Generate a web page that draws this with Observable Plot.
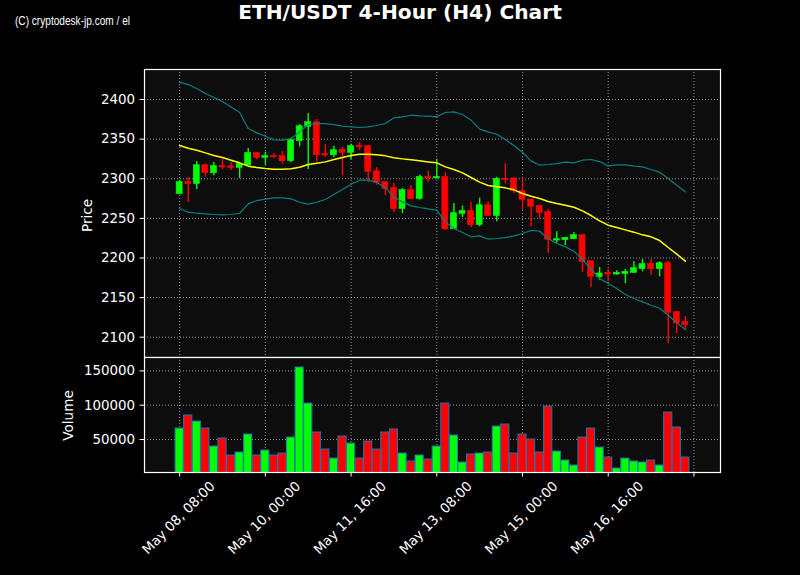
<!DOCTYPE html>
<html><head><meta charset="utf-8">
<script src="https://cdn.jsdelivr.net/npm/d3@7"></script>
<script src="https://cdn.jsdelivr.net/npm/@observablehq/plot@0.6"></script>
<style>
html,body{margin:0;padding:0;background:#000;}
#root{position:relative;width:800px;height:575px;background:#000;overflow:hidden;}
#root svg{position:absolute;left:0;}
</style></head><body><div id="root"></div>
<script>
// ---- data ----
const startTime = Date.UTC(2024, 4, 8, 8); // May 08, 08:00 (first candle)
const stepHours = 4;
const open = [2280.9,2295.7,2293.6,2317.1,2307.0,2315.9,2315.5,2313.8,2316.7,2332.3,
  2326.4,2328.5,2328.5,2322.2,2347.4,2365.5,2371.4,2331.0,2329.7,2336.5,
  2332.7,2341.5,2341.1,2309.5,2295.7,2288.1,2262.0,2285.6,2274.6,2302.0,
  2300.7,2302.0,2236.3,2255.7,2259.1,2241.8,2266.6,2253.2,2299.9,2300.3,
  2284.3,2273.8,2265.4,2257.8,2222.0,2222.5,2223.7,2228.8,2196.0,2175.8,
  2181.2,2179.1,2179.9,2181.2,2185.9,2192.2,2185.9,2193.4,2131.6,2119.0];
const high = [2297.3,2301.6,2321.8,2318.8,2320.5,2325.1,2320.1,2318.8,2338.2,2333.1,
  2333.5,2331.8,2334.4,2351.2,2368.4,2382.3,2374.8,2343.2,2341.1,2339.4,
  2343.6,2345.7,2342.0,2313.8,2295.7,2294.0,2287.7,2291.5,2304.5,2309.5,
  2324.3,2307.9,2268.7,2265.4,2270.0,2275.5,2270.8,2301.6,2319.2,2301.6,
  2300.3,2273.8,2265.4,2261.2,2233.0,2226.0,2232.1,2228.8,2196.0,2188.0,
  2185.9,2183.8,2185.5,2195.5,2198.1,2198.1,2195.1,2195.5,2132.9,2126.1];
const low = [2280.0,2270.0,2286.4,2302.4,2303.7,2311.7,2310.4,2300.3,2315.9,2323.9,
  2317.1,2325.5,2318.8,2320.1,2340.3,2311.7,2321.3,2326.8,2326.8,2304.1,
  2324.3,2336.0,2295.2,2291.9,2278.8,2257.4,2256.1,2274.2,2273.0,2295.2,
  2299.5,2234.7,2236.3,2251.1,2238.4,2239.3,2253.2,2245.6,2294.0,2281.4,
  2260.3,2239.3,2249.4,2205.6,2218.7,2215.7,2223.7,2181.7,2162.7,2172.0,
  2169.9,2178.3,2167.8,2181.2,2182.5,2177.9,2176.2,2092.0,2104.7,2108.9];
const close = [2295.7,2293.6,2317.1,2307.0,2315.9,2314.2,2313.8,2318.8,2332.3,2326.4,
  2328.5,2327.2,2322.2,2348.7,2366.3,2371.4,2329.7,2329.3,2336.0,2332.7,
  2341.1,2339.8,2308.7,2294.4,2287.3,2261.6,2285.6,2274.2,2302.0,2300.7,
  2302.4,2236.3,2256.5,2259.1,2241.4,2266.6,2253.2,2299.9,2298.6,2284.3,
  2273.4,2264.5,2256.9,2222.9,2223.7,2225.4,2228.8,2195.1,2176.2,2180.4,
  2179.1,2181.2,2182.5,2187.1,2192.2,2185.9,2193.4,2130.8,2117.3,2115.2];
const volume = [66000,85000,76200,66000,39800,51500,26700,31100,57300,26700,
  34000,26700,29600,52900,154900,102400,60200,35400,22300,54400,
  44200,22300,47100,35400,60200,64600,29600,18000,26700,20900,
  39800,102400,55800,16500,28200,29600,31100,68900,71800,29600,
  57300,50000,31100,98000,32500,19400,12100,52900,66000,38300,
  23800,7800,22300,18000,16500,19400,12100,89300,67500,23800];
const ma = [2341.9,2338.6,2336.0,2332.7,2329.3,2326.8,2323.4,2320.1,2315.9,2314.2,
  2312.9,2312.1,2312.1,2312.5,2314.6,2318.0,2319.6,2321.3,2324.3,2326.8,
  2329.3,2331.0,2331.0,2330.2,2328.9,2326.4,2325.1,2323.9,2322.6,2321.3,
  2320.1,2315.0,2311.7,2307.4,2301.6,2295.7,2291.5,2289.8,2288.5,2286.0,
  2281.4,2278.0,2275.0,2271.3,2268.7,2266.6,2264.1,2259.5,2253.6,2246.9,
  2241.4,2238.4,2235.5,2232.6,2229.2,2226.7,2222.0,2213.2,2204.8,2196.0];
const upper = [2421.9,2418.9,2413.9,2407.6,2402.5,2397.5,2390.7,2383.6,2363.4,2357.9,
  2353.7,2349.1,2348.7,2350.8,2359.2,2368.4,2369.7,2369.7,2368.4,2366.3,
  2365.5,2364.7,2365.5,2367.2,2369.7,2376.9,2378.1,2380.2,2379.4,2379.0,
  2378.1,2383.6,2384.4,2381.1,2373.9,2362.6,2359.2,2356.2,2349.5,2341.9,
  2333.5,2322.6,2317.1,2318.0,2319.2,2320.9,2320.1,2323.4,2324.3,2321.7,
  2316.3,2317.5,2317.5,2315.9,2315.0,2311.7,2308.3,2300.3,2291.9,2283.5];
const lower = [2262.4,2257.8,2256.5,2255.7,2254.9,2254.4,2254.9,2256.5,2268.3,2272.5,
  2274.2,2275.9,2275.9,2274.6,2270.4,2267.9,2270.4,2273.8,2280.1,2286.4,
  2293.1,2298.2,2298.2,2295.7,2288.5,2277.2,2270.8,2265.8,2263.7,2262.0,
  2260.3,2245.6,2237.2,2232.1,2226.7,2227.9,2223.7,2224.6,2225.8,2227.9,
  2230.9,2234.7,2233.8,2224.6,2218.3,2214.1,2208.6,2198.1,2185.9,2174.1,
  2167.8,2161.5,2153.9,2148.8,2144.6,2140.4,2136.6,2127.8,2118.1,2109.7];
const priceTicks = [2100, 2150, 2200, 2250, 2300, 2350, 2400];
const volumeTicks = [50000, 100000, 150000];
const xTickLabels = ["May 08, 08:00", "May 10, 00:00", "May 11, 16:00", "May 13, 08:00", "May 15, 00:00", "May 16, 16:00"];
const titleText = "ETH/USDT 4-Hour (H4) Chart";
const watermarkText = "(C) cryptodesk-jp.com / el";

// ---- build ----
const H = 3600e3;
const step = stepHours * H;
const candles = open.map((o, i) => ({
  t: new Date(startTime + i * step), open: o, high: high[i], low: low[i], close: close[i],
  volume: volume[i], ma: ma[i], upper: upper[i], lower: lower[i],
  color: close[i] >= o ? "#00ff00" : "#ff0000"
}));
const xTicks = d3.range(0, 61, 10).map(i => new Date(startTime + i * step));
const labelMap = new Map(xTicks.map((d, i) => [+d, xTickLabels[i] ?? ""]));
const xDomain = [new Date(startTime - 4.1 * step), new Date(startTime + 63.1 * step)];

const gridStyle = {stroke: "white", strokeOpacity: 0.55, strokeDasharray: "1,2", strokeWidth: 1};
const FACE = "#0d0d0d";
const BAND = "#078080";
const fmt = d3.format("d");
const common = {
  width: 800, marginLeft: 144, marginRight: 80,
  style: {background: "transparent", color: "white", fontFamily: "DejaVu Sans, sans-serif", fontSize: "13.4px", overflow: "visible"}
};

const pricePlot = Plot.plot({
  ...common,
  height: 357, marginTop: 69, marginBottom: 0,
  x: {type: "utc", domain: xDomain, axis: null},
  y: {domain: [2074.4, 2437.9]},
  color: {type: "identity"},
  marks: [
    Plot.frame({fill: FACE, stroke: null}),
    Plot.gridX(xTicks, gridStyle),
    Plot.gridY(priceTicks, gridStyle),
    Plot.ruleX(candles, {x: "t", y1: "low", y2: "high", stroke: "color", strokeWidth: 1.4}),
    Plot.rect(candles, {x1: d => new Date(+d.t - 1.4 * H), x2: d => new Date(+d.t + 1.4 * H),
      y1: "open", y2: "close", fill: "color", stroke: "color", strokeWidth: 0.6}),
    Plot.line(candles, {x: "t", y: "upper", stroke: BAND, strokeWidth: 1.2}),
    Plot.line(candles, {x: "t", y: "lower", stroke: BAND, strokeWidth: 1.2}),
    Plot.line(candles, {x: "t", y: "ma", stroke: "#ffff00", strokeWidth: 1.5}),
    Plot.axisY(priceTicks, {anchor: "left", tickSize: 4.5, tickPadding: 5, label: null, stroke: "white", tickFormat: fmt}),
    Plot.frame({stroke: "white", strokeWidth: 1.2})
  ]
});
pricePlot.style.top = "0px";

const volumePlot = Plot.plot({
  ...common,
  height: 218, marginTop: 0, marginBottom: 103,
  x: {type: "utc", domain: xDomain},
  y: {domain: [2000, 169500]},
  color: {type: "identity"},
  marks: [
    Plot.frame({fill: FACE, stroke: null}),
    Plot.gridX(xTicks, gridStyle),
    Plot.gridY(volumeTicks, gridStyle),
    Plot.rect(candles, {x1: d => new Date(+d.t - 1.9 * H), x2: d => new Date(+d.t + 1.9 * H),
      y1: 0, y2: "volume", fill: "color", stroke: "#1f77b4", strokeWidth: 1, clip: true}),
    Plot.axisY(volumeTicks, {anchor: "left", tickSize: 4.5, tickPadding: 5, label: null, stroke: "white", tickFormat: fmt}),
    // tick marks
    Plot.axisX(xTicks, {anchor: "bottom", tickSize: 4.5, tickFormat: () => "", label: null, stroke: "white"}),
    // rotated tick labels, centred on their ticks like the reference
    Plot.axisX(xTicks, {anchor: "bottom", tickSize: 0, tickPadding: 8.5, tickRotate: -45,
      tickFormat: d => labelMap.get(+d), label: null, dx: 33, dy: 3}),
    Plot.frame({stroke: "white", strokeWidth: 1.2})
  ]
});
volumePlot.style.top = "357px";

const root = document.getElementById("root");
root.appendChild(pricePlot);
root.appendChild(volumePlot);

// overlay texts (title, watermark, axis titles)
const ns = "http://www.w3.org/2000/svg";
const ov = document.createElementNS(ns, "svg");
ov.setAttribute("width", 800); ov.setAttribute("height", 575);
ov.style.top = "0px"; ov.style.pointerEvents = "none";
function addText(txt, attrs) {
  const t = document.createElementNS(ns, "text");
  for (const k in attrs) t.setAttribute(k, attrs[k]);
  t.textContent = txt; ov.appendChild(t); return t;
}
addText(titleText, {x: 400, y: 18.5, "text-anchor": "middle", fill: "white",
  "font-family": "DejaVu Sans, sans-serif", "font-weight": "bold", "font-size": "20.2px"});
addText(watermarkText, {x: 15, y: 25, fill: "white", "font-family": "Liberation Sans Narrow, Liberation Sans, sans-serif",
  "font-size": "12px", textLength: 115, lengthAdjust: "spacingAndGlyphs"});
addText("Price", {transform: "translate(92.3,215.5) rotate(-90)", "text-anchor": "middle", fill: "white",
  "font-family": "DejaVu Sans, sans-serif", "font-size": "13.6px"});
addText("Volume", {transform: "translate(73.3,415.5) rotate(-90)", "text-anchor": "middle", fill: "white",
  "font-family": "DejaVu Sans, sans-serif", "font-size": "13.6px"});
root.appendChild(ov);
</script></body></html>
